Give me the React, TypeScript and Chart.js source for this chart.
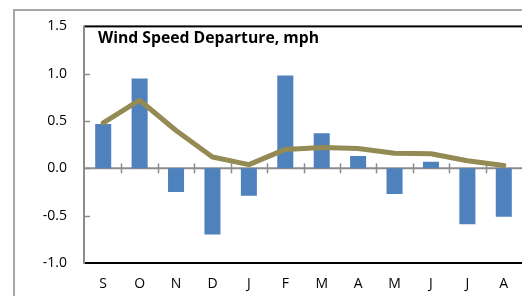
import React, { useEffect, useRef } from "react";
import { Chart, registerables } from "chart.js";

Chart.register(...registerables);

const categories = ["S", "O", "N", "D", "J", "F", "M", "A", "M", "J", "J", "A"];
const departure = [0.47, 0.95, -0.25, -0.7, -0.29, 0.98, 0.37, 0.13, -0.27, 0.07, -0.59, -0.51];
const smoothed = [0.48, 0.72, 0.4, 0.12, 0.04, 0.2, 0.22, 0.21, 0.16, 0.155, 0.08, 0.03];
const yMin = -1.0;
const yMax = 1.5;
const yStep = 0.5;
const titleText = "Wind Speed Departure, mph";

const FONT = "'Open Sans', Lato, sans-serif";

const decorPlugin = {
  id: "decor",
  beforeDatasetsDraw(chart: any) {
    const { ctx, chartArea, scales } = chart;
    const x = scales.x;
    const y = scales.y;
    ctx.save();
    // outer frame
    ctx.fillStyle = "#a6a6a6";
    ctx.fillRect(13, 9, 2, chart.height - 9);
    ctx.fillRect(13, 9, chart.width - 13, 2);
    // zero line
    const y0 = y.getPixelForValue(0);
    ctx.strokeStyle = "#8c8c8c";
    ctx.lineWidth = 2;
    ctx.beginPath();
    ctx.moveTo(chartArea.left, y0);
    ctx.lineTo(chartArea.right, y0);
    ctx.stroke();
    ctx.lineWidth = 1.5;
    for (let i = 1; i < categories.length; i++) {
      const bx = Math.round((x.getPixelForValue(i - 1) + x.getPixelForValue(i)) / 2) + 0.5;
      ctx.beginPath();
      ctx.moveTo(bx, y0 - 5);
      ctx.lineTo(bx, y0 + 5);
      ctx.stroke();
    }
    ctx.restore();
  },
  afterDatasetsDraw(chart: any) {
    const { ctx, chartArea, scales } = chart;
    const y = scales.y;
    ctx.save();
    // top and bottom black borders
    ctx.fillStyle = "#000";
    ctx.fillRect(chartArea.left - 1, chartArea.top - 1, chartArea.right - chartArea.left + 1, 2);
    ctx.fillRect(chartArea.left - 1, chartArea.bottom - 1, chartArea.right - chartArea.left + 1, 2);
    // left axis gray
    ctx.fillStyle = "#8c8c8c";
    ctx.fillRect(chartArea.left - 2, chartArea.top - 1, 2, chartArea.bottom - chartArea.top + 2);
    // inner y ticks
    ctx.strokeStyle = "#8c8c8c";
    ctx.lineWidth = 1.5;
    for (let v = yMin + yStep; v < yMax - 0.01; v += yStep) {
      const py = Math.round(y.getPixelForValue(v)) + 0.5;
      ctx.beginPath();
      ctx.moveTo(chartArea.left, py);
      ctx.lineTo(chartArea.left + 5, py);
      ctx.stroke();
    }
    // title
    ctx.fillStyle = "#000";
    ctx.font = "bold 16px " + FONT;
    ctx.textBaseline = "alphabetic";
    ctx.textAlign = "left";
    ctx.fillText(titleText, chartArea.left + 13, 43, 221);
    ctx.restore();
  },
};

export default function App() {
  const ref = useRef<HTMLCanvasElement | null>(null);
  useEffect(() => {
    if (!ref.current) return;
    const chart = new Chart(ref.current, {
      type: "bar",
      data: {
        labels: categories,
        datasets: [
          {
            type: "line",
            data: smoothed,
            borderColor: "#948a54",
            backgroundColor: "#948a54",
            borderWidth: 5,
            pointRadius: 0,
            tension: 0,
            borderJoinStyle: "round",
            borderCapStyle: "round",
            order: 0,
          } as any,
          {
            type: "bar",
            data: departure,
            backgroundColor: "#4f81bd",
            borderWidth: 0,
            barPercentage: 0.44,
            categoryPercentage: 1,
            order: 1,
          },
        ],
      },
      options: {
        responsive: false,
        animation: false,
        devicePixelRatio: 1,
        layout: { padding: { top: 21, left: 0, right: 0, bottom: 0 } },
        plugins: { legend: { display: false }, tooltip: { enabled: false }, title: { display: false } },
        scales: {
          x: {
            offset: true,
            grid: { display: false, drawTicks: false },
            border: { display: false },
            ticks: { color: "#000", font: { family: FONT, size: 14 }, padding: 13, maxRotation: 0, autoSkip: false },
            afterFit: (s: any) => {
              s.height = 33;
            },
          },
          y: {
            min: yMin,
            max: yMax,
            grid: { display: false, drawTicks: false },
            border: { display: false },
            ticks: {
              stepSize: yStep,
              color: "#000",
              font: { family: FONT, size: 14 },
              padding: 18,
              callback: (v: any) => Number(v).toFixed(1),
            },
            afterFit: (s: any) => {
              s.width = 85;
            },
          },
        },
      },
      plugins: [decorPlugin],
    });
    return () => chart.destroy();
  }, []);
  return (
    <div style={{ position: "absolute", left: 0, top: 0, width: 522, height: 296, background: "#fff" }}>
      <canvas ref={ref} width={522} height={296} style={{ display: "block" }} />
    </div>
  );
}
